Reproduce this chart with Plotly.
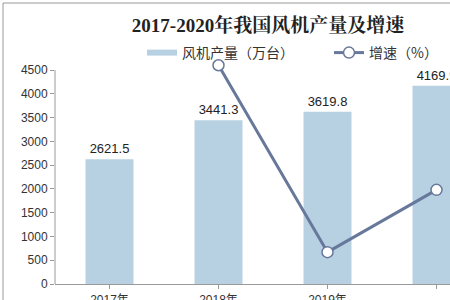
import plotly.graph_objects as go

years = ["2017年", "2018年", "2019年", "2020年"]
output = [2621.5, 3441.3, 3619.8, 4169.9]
growth_years = ["2018年", "2019年", "2020年"]
growth = [46.0, 6.7, 19.8]
y_ticks = [0, 500, 1000, 1500, 2000, 2500, 3000, 3500, 4000, 4500]

W, H = 450, 300
ml, mr, mt, mb = 55, 0, 56, 16
pw, ph = W - ml - mr, H - mt - mb
cat_px = 109
axis_top_px = 70                      # pixel row of the 4500 tick
ax_h = H - mb - axis_top_px           # pixel height of 0..4500
ymax = 4500 * ph / ax_h

BAR_C = "#B7D1E3"
LINE_C = "#68789A"

fig = go.Figure()
fig.add_trace(go.Bar(
    x=list(range(len(years))), y=output, name="风机产量（万台）", showlegend=False,
    marker=dict(color=BAR_C, line=dict(width=0)), width=0.44,
    text=[f"{v:.1f}" for v in output], textposition="outside",
    textfont=dict(size=13, color="#222", family="Liberation Sans, Arial"),
    cliponaxis=False,
))
# legend-only swatch for the bars (wide flat bar like the original)
fig.add_trace(go.Scatter(
    x=[None], y=[None], name="风机产量（万台）", mode="lines",
    line=dict(color=BAR_C, width=6),
))
fig.add_trace(go.Scatter(
    x=[years.index(y) for y in growth_years], y=growth, name="增速（%）", yaxis="y2",
    mode="lines+markers",
    line=dict(color=LINE_C, width=3),
    marker=dict(size=11, color="white", line=dict(color=LINE_C, width=1.5)),
    cliponaxis=False,
))

fig.update_layout(
    width=W, height=H, margin=dict(l=ml, r=mr, t=mt, b=mb, autoexpand=False),
    paper_bgcolor="white", plot_bgcolor="white",
    font=dict(family="Liberation Sans, Arial, Noto Sans CJK SC", color="#333"),
    title=dict(text="<b>2017-2020年我国风机产量及增速</b>", x=(268 - ml) / pw, xref="paper",
               xanchor="center", y=1 - 25 / H, yanchor="middle",
               font=dict(size=19, family="Liberation Serif, Noto Serif CJK SC, Noto Sans CJK SC", color="#222")),
    legend=dict(orientation="h", x=(142 - ml) / pw, xanchor="left", y=(H - mb - 53) / ph, yanchor="middle",
                font=dict(size=14, family="Noto Sans CJK SC", color="#333"), bgcolor="rgba(0,0,0,0)",
                itemwidth=30, entrywidth=142, entrywidthmode="pixels"),
    xaxis=dict(range=[-0.5, -0.5 + pw / cat_px], tickvals=list(range(len(years))), ticktext=years,
               showline=True, linecolor="#999", linewidth=1, ticks="outside", ticklen=4, tickcolor="#999",
               tickson="boundaries", showgrid=False, zeroline=False, ticklabelstandoff=1,
               automargin=False, tickfont=dict(size=12, color="#333")),
    yaxis=dict(range=[0, ymax], tickvals=y_ticks, showline=False, automargin=False,
               ticks="outside", ticklen=4, tickcolor="#999", showgrid=False, zeroline=False,
               tickfont=dict(size=12, color="#333")),
    yaxis2=dict(range=[0, 45 * ph / ax_h], overlaying="y", side="right", visible=False),
    bargap=0.56,
    shapes=[
        dict(type="line", xref="paper", yref="y", x0=0, x1=0, y0=0, y1=4500,
             line=dict(color="#999", width=1)),
        dict(type="line", xref="paper", yref="paper", x0=(3 - ml) / pw, x1=1.2,
             y0=(H - mb - 3) / ph, y1=(H - mb - 3) / ph, line=dict(color="#999", width=1)),
        dict(type="line", xref="paper", yref="paper", x0=(3 - ml) / pw, x1=(3 - ml) / pw,
             y0=(H - mb - 3) / ph, y1=-0.2, line=dict(color="#999", width=1)),
    ],
)
fig.write_html("out.html")
